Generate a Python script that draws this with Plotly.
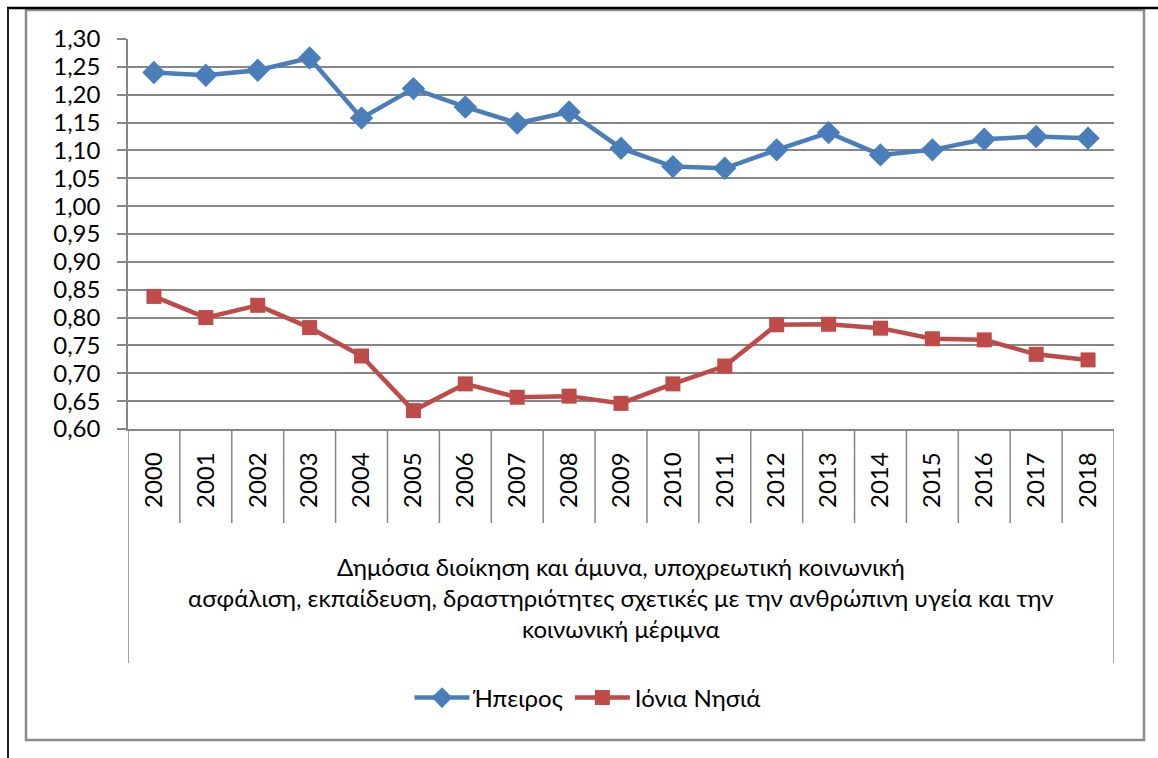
import plotly.graph_objects as go

years = [str(y) for y in range(2000, 2019)]
ipeiros = [1.240, 1.235, 1.244, 1.266, 1.158, 1.211, 1.178, 1.149, 1.169, 1.104,
           1.071, 1.068, 1.101, 1.132, 1.092, 1.101, 1.120, 1.125, 1.122]
ionia = [0.838, 0.800, 0.822, 0.782, 0.731, 0.633, 0.681, 0.657, 0.659, 0.646,
         0.681, 0.713, 0.787, 0.788, 0.781, 0.762, 0.760, 0.734, 0.724]
y_ticks = [round(0.60 + 0.05 * i, 2) for i in range(15)]
category_title = ("Δημόσια διοίκηση και άμυνα, υποχρεωτική κοινωνική<br>"
                  "ασφάλιση, εκπαίδευση, δραστηριότητες σχετικές με την ανθρώπινη υγεία και την<br>"
                  "κοινωνική μέριμνα")

FONT = "Lato, 'Open Sans', 'DejaVu Sans', sans-serif"
GRID = "#868686"
FS = 24

W, H = 1158, 758
L, R, T, B = 128, 1114, 39, 429
pw, ph = R - L, B - T


def px_x(p):
    return (p - L) / pw


def px_y(p):
    return (B - p) / ph


fig = go.Figure()
fig.add_trace(go.Scatter(
    x=years, y=ipeiros, name="Ήπειρος", mode="lines+markers",
    line=dict(color="#4A7EBB", width=4.5),
    marker=dict(symbol="diamond", size=18, color="#4A7EBB"),
))
fig.add_trace(go.Scatter(
    x=years, y=ionia, name="Ιόνια Νησιά", mode="lines+markers",
    line=dict(color="#BE4B48", width=4.5),
    marker=dict(symbol="square", size=15, color="#BE4B48"),
))

shapes = []
# category separators below the x axis
n = len(years)
for i in range(n + 1):
    outer = i in (0, n)
    shapes.append(dict(
        type="line", xref="x", yref="y domain",
        x0=i - 0.5, x1=i - 0.5, y0=0, y1=px_y(663) if outer else px_y(523),
        line=dict(color=GRID, width=1.5), layer="below",
    ))
# chart area gray border
shapes.append(dict(type="rect", xref="paper", yref="paper",
                   x0=px_x(26), x1=px_x(1144), y0=px_y(740), y1=px_y(10),
                   line=dict(color="#8C8C8C", width=2.5), layer="below"))
# black page frame lines
shapes.append(dict(type="line", xref="paper", yref="paper",
                   x0=px_x(7), x1=px_x(1160), y0=px_y(8), y1=px_y(8),
                   line=dict(color="#000000", width=2.5)))
shapes.append(dict(type="line", xref="paper", yref="paper",
                   x0=px_x(8), x1=px_x(8), y0=px_y(8), y1=px_y(760),
                   line=dict(color="#222222", width=2)))

fig.update_layout(
    width=W, height=H,
    margin=dict(l=L, r=W - R, t=T, b=H - B, pad=0),
    paper_bgcolor="white", plot_bgcolor="white",
    separators=",.",
    font=dict(family=FONT, size=FS, color="#000000"),
    showlegend=True,
    legend=dict(orientation="h", x=px_x(588), xanchor="center",
                y=px_y(698), yanchor="middle", font=dict(size=FS),
                itemwidth=55, bgcolor="rgba(0,0,0,0)"),
    shapes=shapes,
    annotations=[dict(
        text=category_title, xref="x domain", yref="paper",
        x=0.5, y=px_y(597), xanchor="center", yanchor="middle",
        showarrow=False, font=dict(family=FONT, size=FS, color="#000000"),
        align="center",
    )],
    xaxis=dict(
        type="category", showgrid=False, zeroline=False,
        showline=True, linecolor=GRID, linewidth=1.5,
        ticks="", tickangle=-90, ticklabelstandoff=12,
        tickfont=dict(size=FS), range=[-0.5, n - 0.5],
    ),
    yaxis=dict(
        range=[0.60, 1.30], tickvals=y_ticks, tickformat=".2f",
        showgrid=True, gridcolor=GRID, gridwidth=1.5,
        showline=True, linecolor=GRID, linewidth=1.5,
        ticks="outside", ticklen=9, tickcolor=GRID, tickwidth=1.5,
        zeroline=False, ticklabelstandoff=12, tickfont=dict(size=FS),
    ),
)

fig.write_html("out.html", config={"displayModeBar": False},
               post_script="document.body.style.margin='0px';document.body.style.overflow='hidden';")
